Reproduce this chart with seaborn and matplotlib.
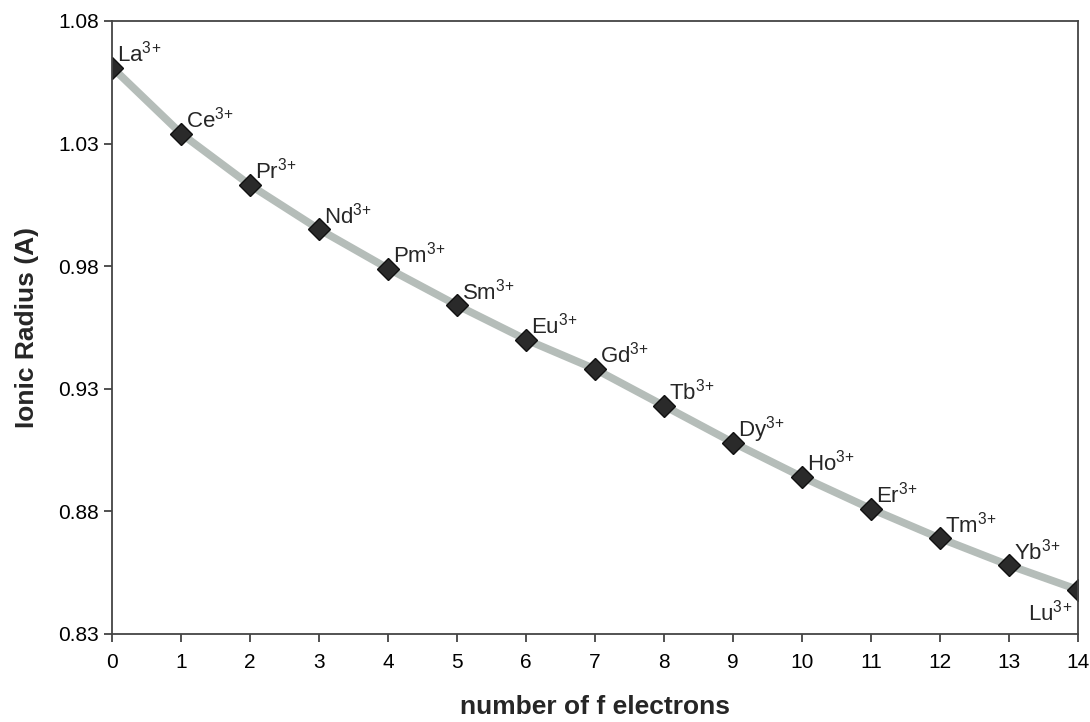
import numpy as np
import pandas as pd
import matplotlib
matplotlib.use("Agg")
import matplotlib.pyplot as plt
import seaborn as sns

# lanthanide ions vs number of f electrons
f_electrons = list(range(15))
ions = ["La", "Ce", "Pr", "Nd", "Pm", "Sm", "Eu", "Gd",
        "Tb", "Dy", "Ho", "Er", "Tm", "Yb", "Lu"]
radius = [1.061, 1.034, 1.013, 0.995, 0.979, 0.964, 0.950, 0.938,
          0.923, 0.908, 0.894, 0.881, 0.869, 0.858, 0.848]

df = pd.DataFrame({"f": f_electrons, "r": radius, "ion": ions})

sns.set_style("ticks")
plt.rcParams["font.family"] = ["Liberation Sans", "DejaVu Sans"]
plt.rcParams["mathtext.fontset"] = "custom"
plt.rcParams["mathtext.rm"] = "Liberation Sans"
plt.rcParams["mathtext.it"] = "Liberation Sans"

fig = plt.figure(figsize=(10.9, 7.22), dpi=100)
ax = fig.add_axes([0.103, 0.122, 0.886, 0.849])

sns.lineplot(data=df, x="f", y="r", ax=ax, color="#b5bdb9", linewidth=5.5,
             marker="D", markersize=11.5, markerfacecolor="#2a2a2a",
             markeredgecolor="#111111", markeredgewidth=1)

for i, row in df.iterrows():
    lbl = row["ion"] + r"$^{\mathrm{3\!+}}$"
    if row["ion"] == "Lu":
        ax.annotate(lbl, (row["f"], row["r"]),
                    xytext=(-4, -7), textcoords="offset points",
                    ha="right", va="top", fontsize=16)
    else:
        ax.annotate(lbl, (row["f"], row["r"]),
                    xytext=(3.5, 4.5), textcoords="offset points",
                    ha="left", va="baseline", fontsize=16)

ax.set_xlim(0, 14)
ax.set_ylim(0.83, 1.08)
ax.set_xticks(range(15))
ax.set_yticks([0.83, 0.88, 0.93, 0.98, 1.03, 1.08])
ax.set_yticklabels(["0.83", "0.88", "0.93", "0.98", "1.03", "1.08"])
ax.tick_params(labelsize=15, direction="out", length=6, width=1.2, colors="#333333",
               labelcolor="black")
ax.tick_params(axis="x", pad=8)
for s in ax.spines.values():
    s.set_color("#444444")
    s.set_linewidth(1.3)

ax.set_xlabel("number of f electrons", fontsize=19, fontweight="bold", labelpad=16)
ax.set_ylabel("Ionic Radius (A)", fontsize=19, fontweight="bold", labelpad=14)

fig.savefig("out.png", dpi=100)
